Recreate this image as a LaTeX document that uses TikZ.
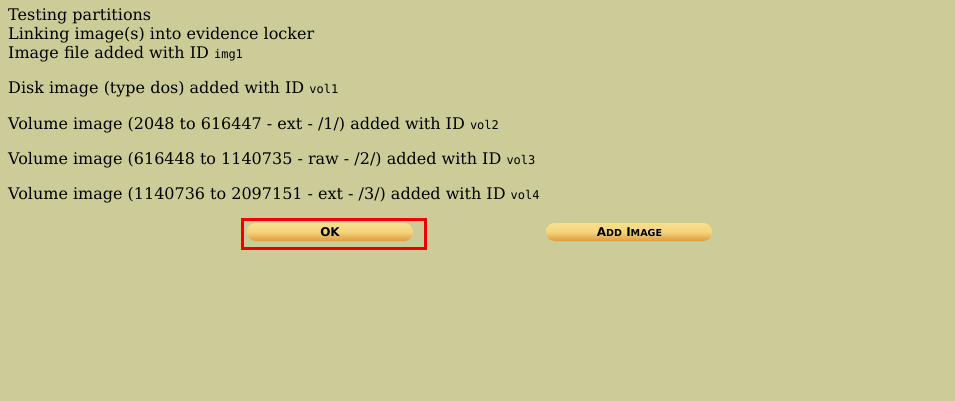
\documentclass[tikz,border=0pt]{standalone}
\usepackage{fontspec}
\setmainfont{DejaVu Serif}
\setmonofont{DejaVu Sans Mono}
\setsansfont{DejaVu Sans}
\usetikzlibrary{shadings}
\definecolor{pagebg}{RGB}{204,204,153}
\definecolor{btntop}{RGB}{250,224,140}
\definecolor{btnbot}{RGB}{222,154,60}
\definecolor{btnred}{RGB}{236,0,0}
\tikzset{
  msg/.style={anchor=base west, inner sep=0pt, font=\fontsize{16}{19}\selectfont},
  btn/.style={rounded corners=8.5pt, top color=btntop, bottom color=btnbot, middle color=btntop!80!btnbot, shading angle=0},
  btnlabel/.style={font=\sffamily\bfseries\fontsize{12}{13}\selectfont, inner sep=0pt}
}
\newcommand{\vid}[1]{{\ttfamily\fontsize{12}{12}\selectfont #1}}
\newcommand{\sml}{\fontsize{9.6}{10}\selectfont}
\begin{document}
\begin{tikzpicture}[x=1pt,y=-1pt]
  \fill[pagebg] (0,0) rectangle (955,401);
  \useasboundingbox (0,0) rectangle (955,401);
  % log lines
  \node[msg] (l1) at (8,21) {Testing partitions};
  \node[msg] (l2) at (8,40) {Linking image(s) into evidence locker};
  \node[msg] (l3) at (8,59) {Image file added with ID \vid{img1}};
  \node[msg] (l4) at (8,94) {Disk image (type dos) added with ID \vid{vol1}};
  \node[msg] (l5) at (8,129) {Volume image (2048 to 616447 - ext - /1/) added with ID \vid{vol2}};
  \node[msg] (l6) at (8,164) {Volume image (616448 to 1140735 - raw - /2/) added with ID \vid{vol3}};
  \node[msg] (l7) at (8,199) {Volume image (1140736 to 2097151 - ext - /3/) added with ID \vid{vol4}};
  % buttons
  \shade[btn] (247,223) rectangle (413,241);
  \node[btnlabel] (ok) at (330,232) {OK};
  \shade[btn] (546,223) rectangle (712,241);
  \node[btnlabel] (add) at (629.5,232) {A{\sml DD} I{\sml MAGE}};
  \draw[btnred, line width=3pt] (242,219.5) rectangle (425,248.5);
\end{tikzpicture}
\end{document}
